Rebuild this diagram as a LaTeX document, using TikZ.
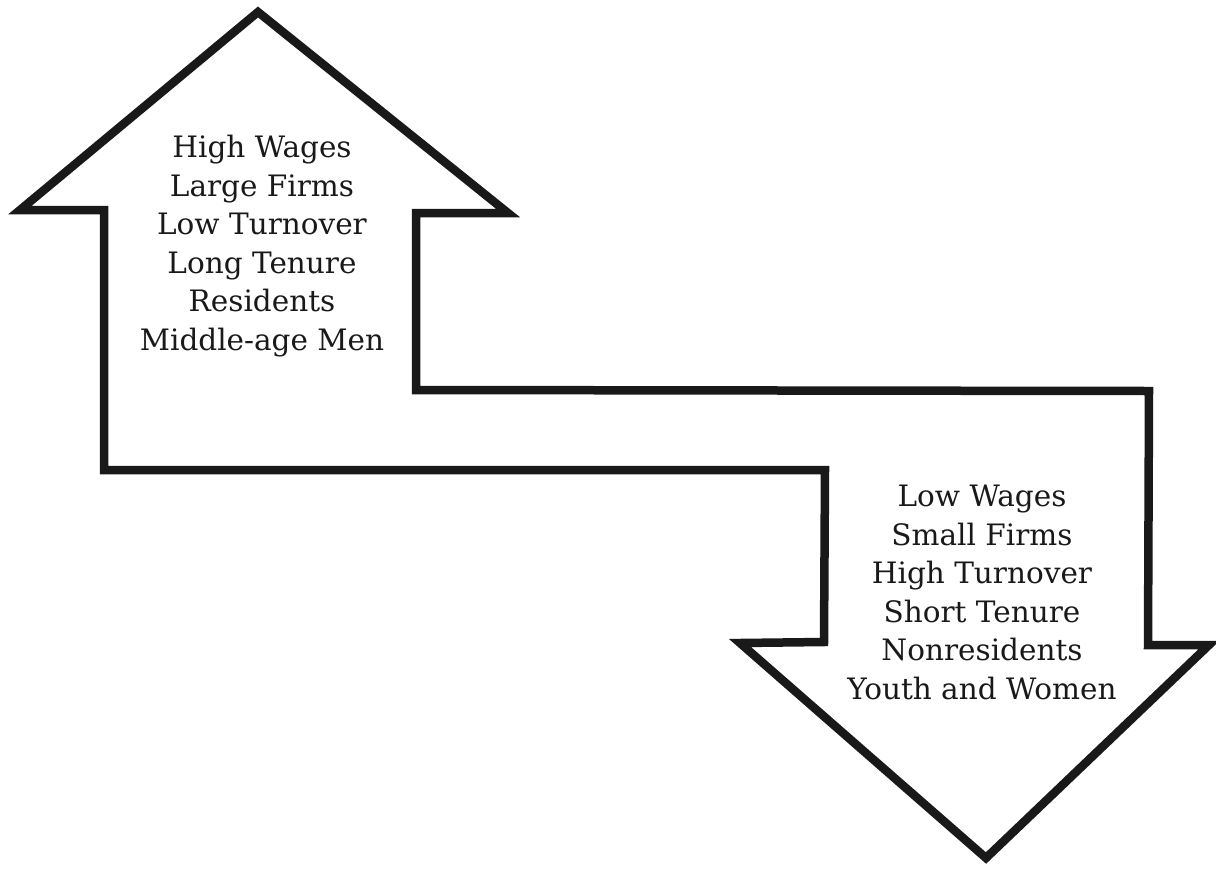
\documentclass[tikz,border=0pt]{standalone}
\usepackage{fontspec}
\setmainfont{DejaVu Serif}
\begin{document}
\begin{tikzpicture}[x=1pt,y=-1pt,
  outline/.style={draw=black!90, line width=8.5pt, line join=miter, miter limit=10},
  label/.style={align=center, inner sep=0pt, font=\fontsize{29.5}{38.5}\selectfont, text=black!90}]
\useasboundingbox (0,0) rectangle (1216,868);
\coordinate (tip1) at (258,12);
\coordinate (hl1) at (20,210);
\coordinate (sl1) at (104,210);
\coordinate (bl1) at (104,470);
\coordinate (br1) at (825,470);
\coordinate (sl2) at (824,642);
\coordinate (hl2) at (740,643);
\coordinate (tip2) at (986,858);
\coordinate (hr2) at (1209,645);
\coordinate (sr2) at (1148,645);
\coordinate (tr2) at (1149,391);
\coordinate (tl2) at (416,390);
\coordinate (sr1) at (416,213);
\coordinate (hr1) at (508,213);
\draw[outline] (tip1) -- (hl1) -- (sl1) -- (bl1) -- (br1) -- (sl2) -- (hl2) -- (tip2) -- (hr2) -- (sr2) -- (tr2) -- (tl2) -- (sr1) -- (hr1) -- cycle;
\node[label, anchor=north] (up) at (262,135) {High Wages\\Large Firms\\Low Turnover\\Long Tenure\\Residents\\Middle-age Men};
\node[label, anchor=north] (down) at (982,485) {Low Wages\\Small Firms\\High Turnover\\Short Tenure\\Nonresidents\\Youth and Women};
\end{tikzpicture}
\end{document}
